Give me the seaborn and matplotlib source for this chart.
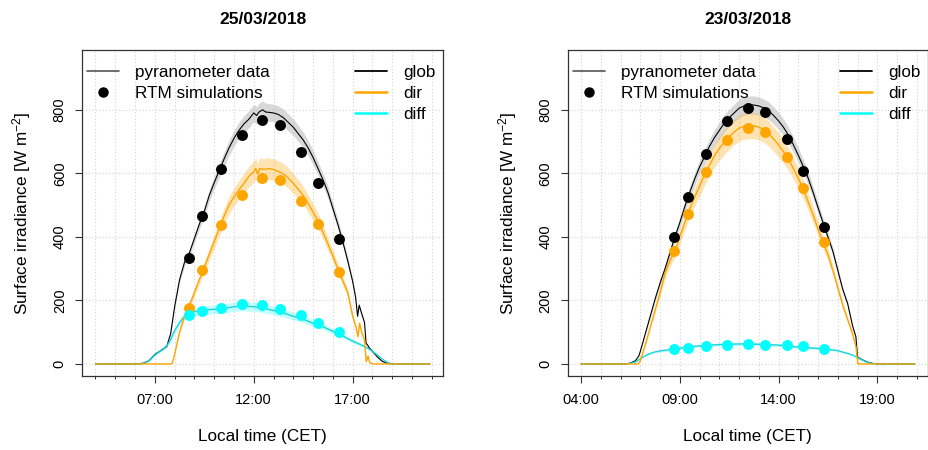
import matplotlib
matplotlib.use("Agg")
import numpy as np
import matplotlib.pyplot as plt
import seaborn as sns
from matplotlib.lines import Line2D
from matplotlib.ticker import FixedLocator, FuncFormatter

# ---- data (hours in CET, irradiance in W m-2) ----

# 25/03/2018 pyranometer data
LEFT_GLOB_T = [4.0, 6.0, 6.4, 6.7, 7.0, 7.3, 7.6, 7.8, 8.0, 8.25, 8.5, 8.75, 9.0, 9.25, 9.5,
               9.75, 10.0, 10.25, 10.5, 10.75, 11.0, 11.25, 11.5, 11.75, 12.0, 12.15, 12.25,
               12.45, 12.6, 12.75, 13.0, 13.25, 13.5, 13.75, 14.0, 14.25, 14.5, 14.75, 15.0,
               15.25, 15.5, 15.75, 16.0, 16.25, 16.5, 16.75, 17.0, 17.15, 17.25, 17.33, 17.45,
               17.6, 17.68, 17.75, 17.85, 18.0, 18.25, 18.5, 18.75, 19.0, 20.9]
LEFT_GLOB_V = [0, 0, 2, 10, 30, 42, 55, 95, 180, 265, 320, 350, 395, 440, 480,
               530, 570, 608, 645, 680, 710, 735, 755, 770, 790, 782, 792,
               800, 793, 792, 790, 785, 775, 760, 745, 725, 705, 680, 650,
               615, 580, 540, 490, 440, 385, 325, 260, 210, 150, 185, 160,
               130, 65, 60, 50, 40, 22, 8, 2, 0, 0]
LEFT_DIR_T = [4.0, 7.8, 7.88, 8.0, 8.25, 8.5, 8.72, 9.0, 9.25, 9.5, 9.75, 10.0, 10.33, 10.5,
              10.75, 11.0, 11.25, 11.5, 11.75, 12.0, 12.1, 12.2, 12.3, 12.5, 12.75, 13.0,
              13.25, 13.5, 13.75, 14.0, 14.25, 14.5, 14.75, 15.0, 15.25, 15.5, 15.75, 16.0,
              16.25, 16.5, 16.75, 17.0, 17.15, 17.27, 17.35, 17.45, 17.6, 17.69, 17.78,
              17.86, 18.0, 20.9]
LEFT_DIR_V = [0, 0, 2, 30, 100, 150, 180, 225, 265, 305, 345, 385, 438, 465,
              500, 525, 548, 568, 590, 605, 615, 598, 615, 612, 615, 612,
              606, 598, 585, 568, 550, 530, 505, 478, 450, 415, 378, 340,
              300, 262, 225, 150, 120, 86, 128, 100, 76, 7, 25,
              5, 0, 0]
LEFT_DIFF_T = [4.0, 6.3, 6.5, 6.75, 7.0, 7.25, 7.5, 7.75, 8.0, 8.25, 8.5, 8.75, 9.0, 9.5,
               10.0, 10.5, 11.0, 11.5, 12.0, 12.5, 13.0, 13.5, 14.0, 14.5, 15.0, 15.5, 16.0,
               16.5, 17.0, 17.5, 17.75, 18.0, 18.25, 18.5, 18.75, 19.0, 20.9]
LEFT_DIFF_V = [0, 0, 3, 12, 28, 39, 50, 70, 105, 130, 150, 160, 165, 170,
               172, 175, 180, 182, 180, 175, 168, 160, 150, 141, 128, 117, 103,
               88, 72, 58, 50, 40, 28, 15, 5, 0, 0]

# 25/03/2018 RTM simulations
LEFT_SIM_T = [8.72, 9.39, 10.33, 11.41, 12.44, 13.33, 14.41, 15.27, 16.33]
LEFT_SIM_GLOB = [333, 466, 614, 720, 768, 751, 668, 569, 393]
LEFT_SIM_DIR = [177, 296, 436, 532, 585, 578, 513, 439, 289]
LEFT_SIM_DIFF = [154, 168, 177, 188, 184, 172, 153, 130, 102]

# 23/03/2018 pyranometer data
RIGHT_GLOB_T = [4.0, 6.3, 6.5, 6.75, 6.92, 7.0, 7.25, 7.5, 7.75, 8.0, 8.25, 8.5, 8.75, 9.0,
                9.25, 9.5, 9.75, 10.0, 10.25, 10.5, 10.75, 11.0, 11.25, 11.5, 11.75, 12.0,
                12.25, 12.5, 12.75, 13.0, 13.25, 13.5, 13.75, 14.0, 14.25, 14.5, 14.75, 15.0,
                15.25, 15.5, 15.75, 16.0, 16.25, 16.5, 16.75, 17.0, 17.25, 17.5, 17.75, 17.92,
                18.0, 18.25, 18.5, 18.75, 19.0, 20.9]
RIGHT_GLOB_V = [0, 0, 3, 10, 25, 40, 95, 150, 205, 255, 300, 350, 400, 445,
                495, 540, 582, 620, 652, 685, 712, 735, 758, 775, 790, 805,
                812, 815, 815, 812, 806, 797, 782, 765, 745, 720, 690, 657,
                622, 585, 540, 492, 445, 400, 355, 295, 235, 190, 120, 85,
                22, 13, 6, 2, 0, 0]
RIGHT_DIR_T = [4.0, 6.9, 7.0, 7.25, 7.5, 7.75, 8.0, 8.25, 8.5, 8.75, 9.0, 9.25, 9.5, 9.75,
               10.0, 10.25, 10.5, 10.75, 11.0, 11.25, 11.5, 11.75, 12.0, 12.25, 12.5, 12.75,
               13.0, 13.25, 13.5, 13.75, 14.0, 14.25, 14.5, 14.75, 15.0, 15.25, 15.5, 15.75,
               16.0, 16.25, 16.5, 16.75, 17.0, 17.25, 17.5, 17.75, 17.92, 18.02, 20.9]
RIGHT_DIR_V = [0, 0, 10, 60, 115, 170, 225, 285, 325, 355, 400, 445, 488, 525,
               560, 595, 625, 655, 678, 698, 715, 730, 742, 748, 750, 750,
               745, 738, 725, 708, 690, 668, 645, 615, 585, 550, 510, 470,
               425, 383, 345, 295, 240, 185, 140, 95, 55, 0, 0]
RIGHT_DIFF_T = [4.0, 6.3, 6.5, 6.75, 7.0, 7.25, 7.5, 7.75, 8.0, 8.5, 9.0, 9.5, 10.0, 10.5,
                11.0, 11.5, 12.0, 12.5, 13.0, 13.5, 14.0, 14.5, 15.0, 15.5, 16.0, 16.5, 17.0,
                17.5, 17.75, 18.0, 18.25, 18.5, 18.75, 19.0, 19.3, 19.6, 20.9]
RIGHT_DIFF_V = [0, 0, 2, 6, 16, 26, 33, 38, 41, 45, 50, 54, 57, 59,
                61, 62, 63, 63, 62, 61, 59, 56, 53, 51, 49, 46, 42,
                33, 28, 20, 12, 5, 1, 0, -2, 0, 0]

# 23/03/2018 RTM simulations
RIGHT_SIM_T = [8.71, 9.40, 10.33, 11.39, 12.43, 13.33, 14.42, 15.25, 16.32]
RIGHT_SIM_GLOB = [401, 525, 661, 764, 806, 792, 709, 608, 431]
RIGHT_SIM_DIR = [356, 473, 605, 704, 744, 731, 651, 554, 385]
RIGHT_SIM_DIFF = [46, 50, 57, 60, 62, 61, 59, 55, 47]

# relative measurement uncertainty used for the shaded bands
GLOB_UNC = 0.035
DIR_UNC = 0.055
DIFF_UNC = 0.08

GLOB_COL = "black"
DIR_COL = "#FFA500"
DIFF_COL = "#00FFFF"
DIFF_LINE_COL = "#1ED3DA"

sns.set_theme(style="ticks")
plt.rcParams['font.family'] = ['Liberation Sans', 'DejaVu Sans']
plt.rcParams['mathtext.fontset'] = 'custom'
plt.rcParams['mathtext.rm'] = 'Liberation Sans'
plt.rcParams['mathtext.default'] = 'regular'
plt.rcParams['text.color'] = 'black'
plt.rcParams['axes.labelcolor'] = 'black'
plt.rcParams['xtick.color'] = 'black'
plt.rcParams['ytick.color'] = 'black'


def hhmm(x, pos):
    return "%02d:00" % int(round(x))


def draw_panel(ax, title, glob, dirr, diff, sim, major_hours):
    # shaded uncertainty bands
    for (t, v), unc, col, alpha in [(glob, GLOB_UNC, "#BEBEBE", 0.6),
                                    (dirr, DIR_UNC, DIR_COL, 0.3),
                                    (diff, DIFF_UNC, DIFF_COL, 0.25)]:
        v = np.asarray(v, dtype=float)
        ax.fill_between(t, v * (1 - unc), v * (1 + unc), color=col, alpha=alpha, lw=0)

    # measured curves
    sns.lineplot(x=glob[0], y=glob[1], ax=ax, color=GLOB_COL, lw=0.8, estimator=None, sort=False)
    sns.lineplot(x=diff[0], y=diff[1], ax=ax, color=DIFF_LINE_COL, lw=1.0, estimator=None, sort=False)
    sns.lineplot(x=dirr[0], y=dirr[1], ax=ax, color=DIR_COL, lw=1.0, estimator=None, sort=False)

    # simulations
    t_sim, s_glob, s_dir, s_diff = sim
    sns.scatterplot(x=t_sim, y=s_glob, ax=ax, color=GLOB_COL, s=62, linewidth=0, zorder=5)
    sns.scatterplot(x=t_sim, y=s_dir, ax=ax, color=DIR_COL, s=62, linewidth=0, zorder=5)
    sns.scatterplot(x=t_sim, y=s_diff, ax=ax, color=DIFF_COL, s=62, linewidth=0, zorder=5)

    ax.set_xlim(3.32, 21.57)
    ax.set_ylim(-38, 988)
    ax.xaxis.set_major_locator(FixedLocator(major_hours))
    ax.xaxis.set_minor_locator(FixedLocator(list(range(4, 22))))
    ax.xaxis.set_major_formatter(FuncFormatter(hhmm))
    ax.set_yticks([0, 200, 400, 600, 800])

    ax.grid(True, which="both", axis="x", color="#D3D3D3", ls=(0, (1, 2)), lw=0.8)
    ax.grid(True, which="major", axis="y", color="#D3D3D3", ls=(0, (1, 2)), lw=0.8)
    ax.set_axisbelow(True)

    ax.tick_params(axis="x", which="major", length=5, width=0.8, pad=7, labelsize=10.5,
                   color="#333333", labelcolor="black")
    ax.tick_params(axis="x", which="minor", length=2.5, width=0.7, color="#333333")
    ax.tick_params(axis="y", which="major", length=5, width=0.8, pad=6, labelsize=10.5,
                   labelrotation=90, color="#333333", labelcolor="black")
    for lab in ax.get_yticklabels():
        lab.set_verticalalignment("center")
    for sp in ax.spines.values():
        sp.set_visible(True)
        sp.set_color("#333333")
        sp.set_linewidth(0.9)

    ax.set_xlabel("Local time (CET)", fontsize=12.3, labelpad=16)
    ax.set_ylabel("Surface irradiance [W m$^{-2}$]", fontsize=12.3, labelpad=14)
    ax.set_title(title, fontsize=12.5, fontweight="bold", pad=19, color="black")

    # legends
    leg_kw = dict(loc="upper left", frameon=False, fontsize=12.3, handlelength=1.87,
                  handletextpad=0.94, labelspacing=0.36, borderaxespad=0, borderpad=0)
    h1 = [Line2D([], [], color="#555555", lw=1.2),
          Line2D([], [], ls="none", marker="o", color="black", ms=6.5)]
    leg1 = ax.legend(h1, ["pyranometer data", "RTM simulations"],
                     bbox_to_anchor=(0.015, 0.954), **leg_kw)
    ax.add_artist(leg1)
    h2 = [Line2D([], [], color=GLOB_COL, lw=1.3),
          Line2D([], [], color=DIR_COL, lw=1.8),
          Line2D([], [], color=DIFF_COL, lw=1.8)]
    ax.legend(h2, ["glob", "dir", "diff"], bbox_to_anchor=(0.757, 0.954), **leg_kw)


fig = plt.figure(figsize=(9.29, 4.5), dpi=100)
ax1 = fig.add_axes([0.0883, 0.1644, 0.3886, 0.7244])
ax2 = fig.add_axes([0.6111, 0.1644, 0.3878, 0.7244])

draw_panel(ax1, "25/03/2018",
           (LEFT_GLOB_T, LEFT_GLOB_V), (LEFT_DIR_T, LEFT_DIR_V), (LEFT_DIFF_T, LEFT_DIFF_V),
           (LEFT_SIM_T, LEFT_SIM_GLOB, LEFT_SIM_DIR, LEFT_SIM_DIFF), [7, 12, 17])
draw_panel(ax2, "23/03/2018",
           (RIGHT_GLOB_T, RIGHT_GLOB_V), (RIGHT_DIR_T, RIGHT_DIR_V), (RIGHT_DIFF_T, RIGHT_DIFF_V),
           (RIGHT_SIM_T, RIGHT_SIM_GLOB, RIGHT_SIM_DIR, RIGHT_SIM_DIFF), [4, 9, 14, 19])

fig.savefig("out.png", dpi=100)
